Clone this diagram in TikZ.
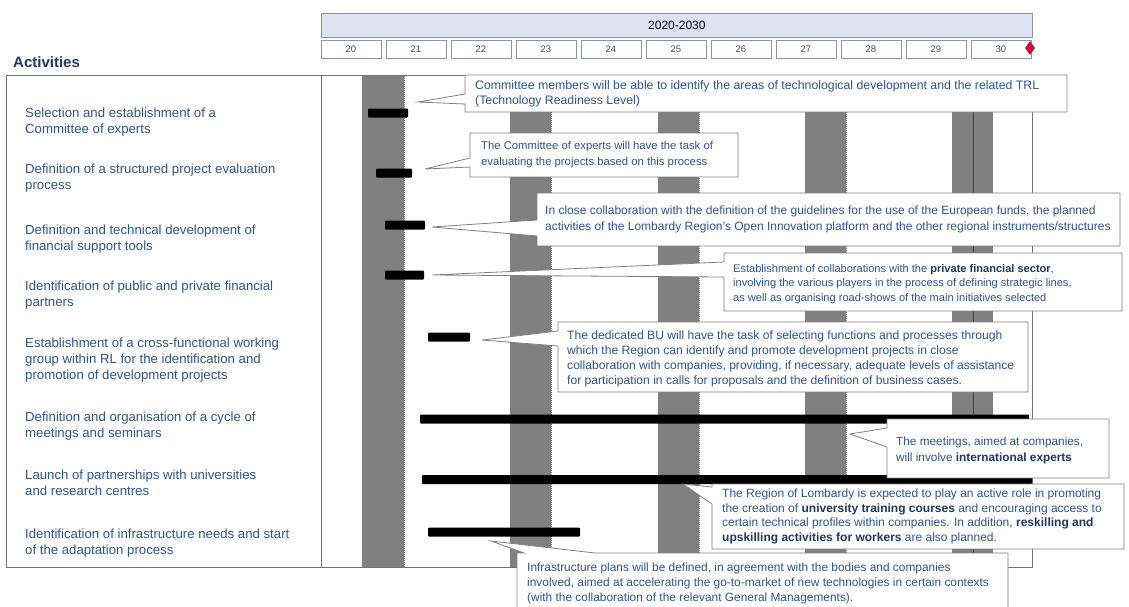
\documentclass[tikz,border=0pt]{standalone}
\usepackage{fontspec}
\setmainfont{Liberation Sans}
\usetikzlibrary{shapes.geometric}
\definecolor{txtblue}{HTML}{2F5496}
\definecolor{navy}{HTML}{1F3864}
\definecolor{framec}{HTML}{707090}
\definecolor{bandc}{HTML}{808080}
\definecolor{hdrfill}{HTML}{DCE3F1}
\definecolor{hdrline}{HTML}{8C92B4}
\definecolor{msred}{HTML}{C8102E}
\definecolor{cline}{HTML}{808080}
\begin{document}
\begin{tikzpicture}[x=1pt,y=-1pt,
  act/.style={anchor=west, align=left, text=txtblue, font=\fontsize{13.2}{16}\selectfont, inner sep=0pt},
  bar/.style={fill=black, draw=none, rounded corners=1pt, inner sep=0pt, outer sep=0pt, minimum height=9pt},
  cbox/.style={anchor=north west, fill=white, draw=none, inner sep=0pt, outer sep=0pt},
  ctext/.style={anchor=west, align=left, text=txtblue, inner sep=0pt},
  cedge/.style={draw=cline, line width=0.8pt, line join=miter},
  ybox/.style={draw=hdrline, line width=0.8pt, minimum width=60pt, minimum height=18pt, anchor=north west, font=\fontsize{9.5}{10}\selectfont, text=black!70, inner sep=0pt, fill=white}]
\useasboundingbox (0,0) rectangle (1129,606);

% header
\node[anchor=north west, fill=hdrfill, draw=hdrline, line width=0.8pt, minimum width=711pt, minimum height=23.5pt, inner sep=0pt, text=black!70!blue!60!black, font=\fontsize{12}{14}\selectfont] (hdr) at (321,13) {2020-2030};
\foreach \i/\yr in {0/20,1/21,2/22,3/23,4/24,5/25,6/26,7/27,8/28,9/29,10/30}
  \node[ybox] (y\yr) at ({320.5+65*\i},39.5) {\yr};
\node[diamond, fill=msred, minimum width=10pt, minimum height=14pt, inner sep=0pt] (ms) at (1030,48) {};

\node[anchor=west, inner sep=0pt, text=navy, font=\bfseries\fontsize{15}{17}\selectfont] (title) at (13,62) {Activities};

% bands
\foreach \a/\b in {362/405,510/552,658/700,805/847} {
  \fill[bandc] (\a,75) rectangle (\b,567);
  \draw[white, line width=1pt, dash pattern=on 1pt off 1pt] (\b-0.5,75) -- (\b-0.5,567);
}
\fill[bandc] (952,75) rectangle (993,567);
\draw[black!75, line width=1pt] (973,75) -- (973,567);

% frame
\draw[framec, line width=1pt] (6,75) rectangle (1032,567);
\draw[framec, line width=1pt] (321,75) -- (321,567);

% activities
\node[act] (a1) at (25,122) {Selection and establishment of a\\Committee of experts};
\node[act] (a2) at (25,178) {Definition of a structured project evaluation\\process};
\node[act] (a3) at (25,239) {Definition and technical development of\\financial support tools};
\node[act] (a4) at (25,295) {Identification of public and private financial\\partners};
\node[act] (a5) at (25,360.5) {Establishment of a cross-functional working\\group within RL for the identification and\\promotion of development projects};
\node[act] (a6) at (25,426) {Definition and organisation of a cycle of\\meetings and seminars};
\node[act] (a7) at (25,483) {Launch of partnerships with universities\\and research centres};
\node[act] (a8) at (25,543) {Identification of infrastructure needs and start\\of the adaptation process};

% bars
\node[bar, minimum width=40pt] (b1) at (388,113) {};
\node[bar, minimum width=36pt] (b2) at (394,173) {};
\node[bar, minimum width=40pt] (b3) at (405,225) {};
\node[bar, minimum width=39pt] (b4) at (404.5,275) {};
\node[bar, minimum width=42pt] (b5) at (449,337) {};
\node[bar, minimum width=609pt] (b6) at (724.5,419) {};
\node[bar, minimum width=610pt] (b7) at (727,479.5) {};
\node[bar, minimum width=152pt] (b8) at (504,532) {};

% pointer tips
\coordinate (t1) at (418,102);
\coordinate (t2) at (425,169);
\coordinate (t3) at (432,227);
\coordinate (t4) at (432,275);
\coordinate (t5) at (482,340);
\coordinate (t6) at (850,434);
\coordinate (t7) at (683,484);
\coordinate (t8) at (491,541);

% callout 1
\node[cbox, minimum width=602pt, minimum height=37pt] (c1) at (465,75) {};
\fill[white] (t1) -- (c1.west |- 0,94) -- (c1.west |- 0,104) -- cycle;
\draw[cedge] (c1.north west) -- (c1.west |- 0,94) -- (t1) -- (c1.west |- 0,104) -- (c1.south west) -- (c1.south east) -- (c1.north east) -- cycle;
\node[ctext, font=\fontsize{12.3}{15}\selectfont] (c1t) at ([xshift=10pt]c1.west) {Committee members will be able to identify the areas of technological development and the related TRL\\(Technology Readiness Level)};

% callout 2
\node[cbox, minimum width=268pt, minimum height=44pt] (c2) at (470,133) {};
\fill[white] (t2) -- (c2.west |- 0,158) -- (c2.west |- 0,167) -- cycle;
\draw[cedge] (c2.north west) -- (c2.west |- 0,158) -- (t2) -- (c2.west |- 0,167) -- (c2.south west) -- (c2.south east) -- (c2.north east) -- cycle;
\node[ctext, font=\fontsize{11.3}{16}\selectfont] (c2t) at ([xshift=11pt]c2.west) {The Committee of experts will have the task of\\evaluating the projects based on this process};

% callout 3
\node[cbox, minimum width=583pt, minimum height=53pt] (c3) at (537,193) {};
\fill[white] (t3) -- (c3.west |- 0,220) -- (c3.west |- 0,236) -- cycle;
\draw[cedge] (c3.north west) -- (c3.west |- 0,220) -- (t3) -- (c3.west |- 0,236) -- (c3.south west) -- (c3.south east) -- (c3.north east) -- cycle;
\node[ctext, font=\fontsize{12}{16}\selectfont] (c3t) at ([xshift=8pt]c3.west) {In close collaboration with the definition of the guidelines for the use of the European funds, the planned\\activities of the Lombardy Region's Open Innovation platform and the other regional instruments/structures};

% callout 4
\node[cbox, minimum width=398pt, minimum height=58pt] (c4) at (724,253) {};
\fill[white] (t4) -- (c4.west |- 0,262) -- (c4.west |- 0,277) -- cycle;
\draw[cedge] (c4.north west) -- (c4.west |- 0,262) -- (t4) -- (c4.west |- 0,277) -- (c4.south west) -- (c4.south east) -- (c4.north east) -- cycle;
\node[ctext, font=\fontsize{11.05}{14.3}\selectfont] (c4t) at ([xshift=9pt,yshift=-2pt]c4.west) {Establishment of collaborations with the \textcolor{navy}{\bfseries private financial sector},\\involving the various players in the process of defining strategic lines,\\as well as organising road-shows of the main initiatives selected};

% callout 5
\node[cbox, minimum width=470pt, minimum height=70pt] (c5) at (558,322) {};
\fill[white] (t5) -- (c5.west |- 0,331) -- (c5.west |- 0,346) -- cycle;
\draw[cedge] (c5.north west) -- (c5.west |- 0,331) -- (t5) -- (c5.west |- 0,346) -- (c5.south west) -- (c5.south east) -- (c5.north east) -- cycle;
\node[ctext, font=\fontsize{12.1}{15}\selectfont] (c5t) at ([xshift=9pt,yshift=-2pt]c5.west) {The dedicated BU will have the task of selecting functions and processes through\\which the Region can identify and promote development projects in close\\collaboration with companies, providing, if necessary, adequate levels of assistance\\for participation in calls for proposals and the definition of business cases.};

% callout 6
\node[cbox, minimum width=222pt, minimum height=59pt] (c6) at (887,419) {};
\fill[white] (t6) -- (c6.west |- 0,428) -- (c6.west |- 0,447) -- cycle;
\draw[cedge] (c6.north west) -- (c6.west |- 0,428) -- (t6) -- (c6.west |- 0,447) -- (c6.south west) -- (c6.south east) -- (c6.north east) -- cycle;
\node[ctext, font=\fontsize{11.8}{16}\selectfont] (c6t) at ([xshift=9pt,yshift=-1.5pt]c6.west) {The meetings, aimed at companies,\\will involve \textcolor{navy}{\bfseries international experts}};

% callout 7
\node[cbox, minimum width=412pt, minimum height=65pt] (c7) at (712,484) {};
\fill[white] (t7) -- (c7.west |- 0,487) -- (c7.west |- 0,504) -- cycle;
\draw[cedge] (c7.north west) -- (c7.west |- 0,487) -- (t7) -- (c7.west |- 0,504) -- (c7.south west) -- (c7.south east) -- (c7.north east) -- cycle;
\node[ctext, font=\fontsize{12}{14.8}\selectfont] (c7t) at ([xshift=10pt]c7.west) {The Region of Lombardy is expected to play an active role in promoting\\the creation of \textcolor{navy}{\bfseries university training courses} and encouraging access to\\certain technical profiles within companies. In addition, \textcolor{navy}{\bfseries reskilling and}\\\textcolor{navy}{\bfseries upskilling activities for workers} are also planned.};

% callout 8
\node[cbox, minimum width=491pt, minimum height=60pt] (c8) at (517,553) {};
\fill[white] (t8) -- (c8.north -| 524,0) -- (c8.north -| 595,0) -- cycle;
\draw[cedge] (c8.south west) -- (c8.north west) -- (c8.north -| 524,0) -- (t8) -- (c8.north -| 595,0) -- (c8.north east) -- (c8.south east);
\node[ctext, font=\fontsize{11.9}{15}\selectfont] (c8t) at (527,583) {Infrastructure plans will be defined, in agreement with the bodies and companies\\involved, aimed at accelerating the go-to-market of new technologies in certain contexts\\(with the collaboration of the relevant General Managements).};
\end{tikzpicture}
\end{document}
